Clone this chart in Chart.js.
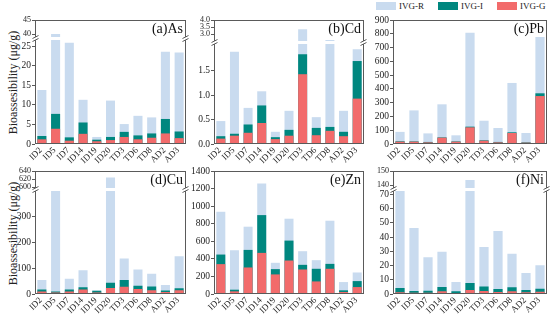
<!DOCTYPE html>
<html lang="en">
<head>
    <meta charset="UTF-8">
    <title>Bioaccessibility by phase</title>
    <script src="https://cdn.jsdelivr.net/npm/chart.js"></script>
    <style>
        body {
            margin: 0;
            padding: 0;
            background: #ffffff;
            font-family: 'Liberation Serif', 'Times New Roman', serif;
        }
        .page {
            position: relative;
            width: 550px;
            height: 321px;
            overflow: hidden;
        }
        canvas { position: absolute; }
        .ytitle {
            position: absolute;
            width: 160px;
            text-align: center;
            font-size: 12px;
            color: #222;
            transform: rotate(-90deg);
            white-space: nowrap;
        }
        .legend {
            position: absolute;
            left: 376px;
            top: 1px;
            display: flex;
            align-items: center;
            font-size: 9px;
            color: #222;
        }
        .legend .box {
            width: 20px;
            height: 8px;
            margin-right: 3px;
        }
        .legend .item {
            display: flex;
            align-items: center;
            margin-right: 14px;
        }
    </style>
</head>
<body>
<div class="page" id="page">
    <div class="legend">
        <div class="item"><span class="box" style="background:#c9dbef"></span>IVG-R</div>
        <div class="item"><span class="box" style="background:#00877f"></span>IVG-I</div>
        <div class="item" style="margin-right:0"><span class="box" style="background:#f26b6b"></span>IVG-G</div>
    </div>
    <div class="ytitle" style="left:-67px; top:75px;">Bioassesibility (μg/g)</div>
    <div class="ytitle" style="left:-67px; top:226px;">Bioassesibility (μg/g)</div>
</div>

<script>
// sample sites
const categories = ['ID2', 'ID5', 'ID7', 'ID14', 'ID19', 'ID20', 'TD3', 'TD6', 'TD8', 'AD2', 'AD3'];

// bar tops (each phase drawn from zero, R behind I behind G)
const asR = [13.8, 40, 25.9, 11.3, 1.8, 11.1, 5.1, 7.2, 6.8, 23.6, 23.4];
const asI = [2.05, 7.7, 1.7, 5.5, 1.1, 1.8, 3.1, 2.2, 2.7, 6.4, 3.2];
const asG = [1.2, 3.9, 0.85, 2.6, 0.7, 1.0, 1.8, 1.2, 1.6, 2.7, 1.5];

const cdR = [0.47, 1.89, 0.74, 1.08, 0.25, 0.68, 3.35, 0.55, 2.6, 0.68, 1.94];
const cdI = [0.16, 0.21, 0.40, 0.79, 0.14, 0.29, 1.84, 0.33, 0.35, 0.25, 1.70];
const cdG = [0.11, 0.17, 0.23, 0.43, 0.10, 0.17, 1.43, 0.18, 0.27, 0.16, 0.93];

const pbR = [88, 244, 77, 288, 63, 808, 169, 116, 443, 80, 777];
const pbI = [20, 19, 15, 48, 19, 126, 27, 15, 85, 12, 368];
const pbG = [17, 17, 12, 46, 17, 121, 24, 12, 80, 10, 348];

const cuR = [54, 580, 59, 92, 14, 624, 138, 95, 79, 35, 146];
const cuI = [17, 10, 17, 26, 13, 44, 54, 32, 29, 14, 22];
const cuG = [10, 6, 10, 17, 6, 23, 28, 19, 15, 8, 15];

const znR = [936, 498, 766, 1257, 355, 857, 487, 385, 834, 136, 245];
const znI = [449, 49, 502, 898, 283, 608, 332, 287, 343, 42, 147];
const znG = [340, 30, 302, 468, 223, 381, 279, 143, 287, 23, 79];

const niR = [73, 46.5, 25.8, 29.8, 8.4, 143.7, 33, 44.4, 28.4, 14.7, 20.2];
const niI = [4.2, 2.1, 2.3, 4.9, 1.9, 7.7, 5.3, 3.5, 4.7, 2.8, 3.7];
const niG = [1.2, 0.9, 0.9, 1.9, 0.7, 2.8, 2.1, 1.4, 1.9, 1.2, 1.6];

// axis ranges and ticks (lower segment, upper segment after the break)
const asLow = [0, 27.1], asHigh = [38.6, 45];
const asLowTicks = [0, 5, 10, 15, 20, 25], asHighTicks = [40, 45];
const cdLow = [0, 2.09], cdHigh = [2.46, 4.0];
const cdLowTicks = [0, 0.5, 1.0, 1.5], cdHighTicks = [3.0, 3.5, 4.0];
const pbLow = [0, 900];
const pbLowTicks = [0, 100, 200, 300, 400, 500, 600, 700, 800, 900];
const cuLow = [0, 408], cuHigh = [596, 640];
const cuLowTicks = [0, 100, 200, 300], cuHighTicks = [600, 620, 640];
const znLow = [0, 1400];
const znLowTicks = [0, 200, 400, 600, 800, 1000, 1200, 1400];
const niLow = [0, 74], niHigh = [137.4, 150];
const niLowTicks = [0, 10, 20, 30, 40, 50, 60, 70], niHighTicks = [140, 150];

const colR = '#c9dbef', colI = '#00877f', colG = '#f26b6b';
const frameCol = '#5a5a5a';
const serif = "'Liberation Serif', 'Times New Roman', serif";

Chart.defaults.font.family = serif;
Chart.defaults.color = '#222';

// keep each dataset inside its own y segment
const segmentClip = {
    id: 'segmentClip',
    beforeDatasetDraw(chart, args) {
        const s = chart.scales[args.meta.yAxisID];
        const a = chart.chartArea;
        chart.ctx.save();
        chart.ctx.beginPath();
        chart.ctx.rect(a.left, s.top, a.right - a.left, s.bottom - s.top);
        chart.ctx.clip();
    },
    afterDatasetDraw(chart) {
        chart.ctx.restore();
    }
};

// box frame, axis break, slanted site labels and panel label
const framePlugin = {
    id: 'frame',
    afterDraw(chart, args, opts) {
        const {ctx, chartArea: a} = chart;
        ctx.save();
        ctx.strokeStyle = frameCol;
        ctx.lineWidth = 1;
        ctx.strokeRect(a.left + 0.5, a.top + 0.5, a.right - a.left - 1, a.bottom - a.top - 1);
        const hi = chart.scales.yHigh;
        if (hi) {
            const y = Math.round(hi.bottom);
            ctx.fillStyle = '#ffffff';
            ctx.fillRect(a.left - 3, y - 1, a.right - a.left + 6, 3);
            ctx.beginPath();
            for (const x of [a.left + 0.5, a.right - 0.5]) {
                ctx.moveTo(x - 3, y + 0.5);
                ctx.lineTo(x + 3, y - 2.5);
                ctx.moveTo(x - 3, y + 3.5);
                ctx.lineTo(x + 3, y + 0.5);
            }
            ctx.stroke();
        }

        const xs = chart.scales.x;
        ctx.fillStyle = '#222';
        ctx.font = '9px ' + serif;
        ctx.textAlign = 'right';
        ctx.textBaseline = 'middle';
        chart.data.labels.forEach((lab, i) => {
            const px = xs.getPixelForTick(i);
            ctx.save();
            ctx.translate(px - 1, a.bottom + 5);
            ctx.rotate(-Math.PI / 4);
            ctx.fillText(lab, 0, 0);
            ctx.restore();
        });

        ctx.fillStyle = '#111';
        ctx.font = '14px ' + serif;
        ctx.textAlign = 'right';
        ctx.textBaseline = 'alphabetic';
        ctx.fillText(opts.label, a.right - 3, a.top + 13);
        ctx.restore();
    }
};

function yAxis(range, ticks, decimals, fontSize, extra) {
    return Object.assign({
        position: 'left',
        min: range[0],
        max: range[1],
        afterBuildTicks: s => { s.ticks = ticks.map(v => ({value: v})); },
        afterFit: s => { s.width = 35; },
        grid: {drawOnChartArea: false, tickLength: 3, color: frameCol},
        border: {display: false},
        ticks: {
            autoSkip: false,
            padding: 1,
            font: {size: fontSize},
            color: '#222',
            callback: v => Number(v).toFixed(decimals)
        }
    }, extra || {});
}

function makePanel(p) {
    const canvas = document.createElement('canvas');
    canvas.width = p.w;
    canvas.height = p.h;
    canvas.style.left = p.x + 'px';
    canvas.style.top = p.y + 'px';
    document.getElementById('page').appendChild(canvas);

    const axes = p.high ? ['yLow', 'yHigh'] : ['yLow'];
    const datasets = [];
    axes.forEach(ax => {
        datasets.push({label: 'IVG-R', data: p.r, backgroundColor: colR, yAxisID: ax, order: 3});
        datasets.push({label: 'IVG-I', data: p.i, backgroundColor: colI, yAxisID: ax, order: 2});
        datasets.push({label: 'IVG-G', data: p.g, backgroundColor: colG, yAxisID: ax, order: 1});
    });

    const scales = {
        x: {
            offset: true,
            grid: {display: false},
            border: {display: false},
            afterFit: s => { s.height = 28; },
            ticks: {display: false}
        }
    };
    if (p.high) {
        const span = 124;
        scales.yLow = yAxis(p.low, p.lowTicks, p.dec, 9.5, {stack: 'v', stackWeight: span - p.topPx, weight: 1});
        scales.yHigh = yAxis(p.high, p.highTicks, p.dec, 8, {stack: 'v', stackWeight: p.topPx, weight: 2});
    } else {
        scales.yLow = yAxis(p.low, p.lowTicks, p.dec, 9.5);
    }

    new Chart(canvas, {
        type: 'bar',
        data: {labels: categories, datasets: datasets},
        options: {
            responsive: false,
            animation: false,
            grouped: false,
            barPercentage: 0.66,
            categoryPercentage: 1.0,
            layout: {padding: {left: 0, right: 3, top: 8, bottom: 0}},
            plugins: {
                legend: {display: false},
                tooltip: {enabled: false},
                frame: {label: p.label}
            },
            scales: scales
        },
        plugins: [segmentClip, framePlugin]
    });
}

const panels = [
    {label: '(a)As', r: asR, i: asI, g: asG, low: asLow, high: asHigh, lowTicks: asLowTicks, highTicks: asHighTicks, dec: 0, topPx: 18, x: 0, y: 12, w: 189, h: 160},
    {label: '(b)Cd', r: cdR, i: cdI, g: cdG, low: cdLow, high: cdHigh, lowTicks: cdLowTicks, highTicks: cdHighTicks, dec: 1, topPx: 22, x: 179, y: 12, w: 188, h: 160},
    {label: '(c)Pb', r: pbR, i: pbI, g: pbG, low: pbLow, lowTicks: pbLowTicks, dec: 0, x: 358, y: 12, w: 192, h: 160},
    {label: '(d)Cu', r: cuR, i: cuI, g: cuG, low: cuLow, high: cuHigh, lowTicks: cuLowTicks, highTicks: cuHighTicks, dec: 0, topPx: 18, x: 0, y: 163, w: 189, h: 159},
    {label: '(e)Zn', r: znR, i: znI, g: znG, low: znLow, lowTicks: znLowTicks, dec: 0, x: 179, y: 163, w: 188, h: 159},
    {label: '(f)Ni', r: niR, i: niI, g: niG, low: niLow, high: niHigh, lowTicks: niLowTicks, highTicks: niHighTicks, dec: 0, topPx: 18, x: 358, y: 163, w: 192, h: 159}
];

panels.forEach(makePanel);
</script>
</body>
</html>
